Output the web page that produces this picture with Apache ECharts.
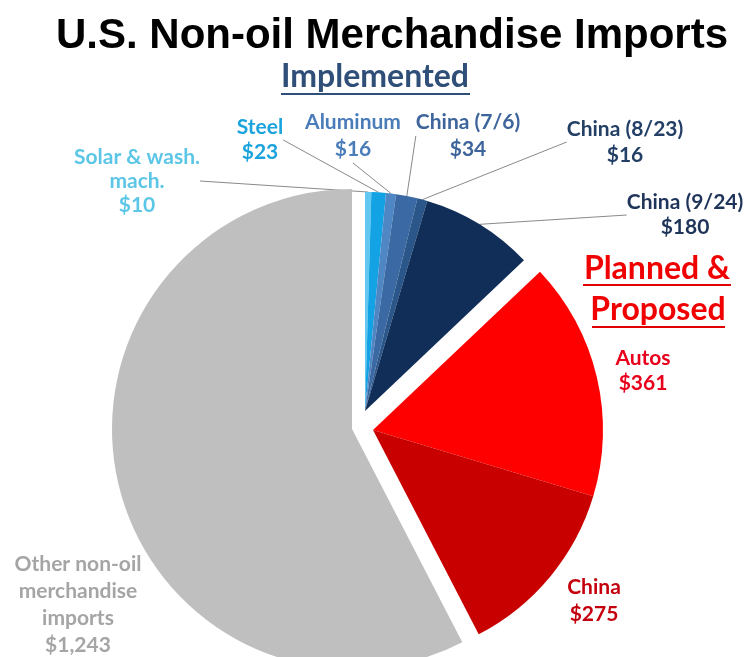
<!DOCTYPE html>
<html>
<head>
<meta charset="utf-8">
<title>U.S. Non-oil Merchandise Imports</title>
<script src="https://cdn.jsdelivr.net/npm/echarts@6/dist/echarts.min.js"></script>
<style>
  html, body { margin: 0; padding: 0; background: #ffffff; }
  #chart { width: 748px; height: 657px; }
</style>
</head>
<body>
<div id="chart"></div>
<script>
// Import categories (billions of dollars), clockwise from 12 o'clock
const categories = [
  'Solar & wash.\nmach.',
  'Steel',
  'Aluminum',
  'China (7/6)',
  'China (8/23)',
  'China (9/24)',
  'Autos',
  'China',
  'Other non-oil\nmerchandise\nimports'
];
const values = [10, 23, 16, 34, 16, 180, 361, 275, 1243];
// Which tariff group each category belongs to
const groups = [
  'implemented', 'implemented', 'implemented', 'implemented', 'implemented', 'implemented',
  'planned', 'planned',
  'other'
];

// ---- styling ----
const sliceColors = ['#62c8ef', '#13a3e4', '#4f86c4', '#3b69a3', '#2b5689', '#102e57', '#ff0000', '#c80000', '#bfbfbf'];
const labelColors = ['#5cc6e6', '#1aa3dc', '#4a7cba', '#3d659c', '#233f66', '#1f3459', '#e8001c', '#c4000f', '#a5a5a5'];
const labelSpots = [[137, 181], [260, 140], [353, 136], [468, 136], [625, 142], [685, 215], [643, 371], [594, 601], [78, 605]];
const labelLineHeights = [24, 25, 27, 27, 26, 25, 25, 27, 27];
const withLeader = [true, true, true, true, true, true, false, false, false];
const groupGeometry = {
  implemented: { center: [365, 411], radius: 219 },
  planned: { center: [373, 430], radius: 230 },
  other: { center: [352, 429], radius: 240 }
};
const LABEL_FONT = 'Lato, "Open Sans", sans-serif';

const fmtMoney = v => '$' + v.toLocaleString('en-US');

function buildSeries(groupName) {
  const geo = groupGeometry[groupName];
  return {
    type: 'pie',
    name: groupName,
    center: geo.center,
    radius: [0, geo.radius],
    startAngle: 90,
    clockwise: true,
    avoidLabelOverlap: false,
    silent: true,
    animation: false,
    label: {
      show: true,
      fontFamily: LABEL_FONT,
      fontWeight: 'bold',
      fontSize: 21,
      align: 'center',
      formatter: p => p.name + '\n' + fmtMoney(p.value)
    },
    labelLine: {
      show: true,
      length: 8,
      length2: 0,
      smooth: false,
      lineStyle: { color: '#8a8a8a', width: 1 }
    },
    labelLayout: params => {
      const spot = labelSpots[params.dataIndex];
      return { x: spot[0], y: spot[1], align: 'center', verticalAlign: 'middle' };
    },
    data: categories.map((name, i) => {
      const inGroup = groups[i] === groupName;
      return {
        name: name,
        value: values[i],
        itemStyle: { color: inGroup ? sliceColors[i] : 'rgba(0,0,0,0)' },
        label: inGroup
          ? { show: true, color: labelColors[i], lineHeight: labelLineHeights[i] }
          : { show: false },
        labelLine: { show: inGroup && withLeader[i] }
      };
    })
  };
}

const chart = echarts.init(document.getElementById('chart'), null, { renderer: 'canvas' });

chart.setOption({
  backgroundColor: '#ffffff',
  animation: false,
  title: {
    text: 'U.S. Non-oil Merchandise Imports',
    left: 387,
    top: 10,
    textAlign: 'center',
    textStyle: {
      fontFamily: '"Liberation Sans", Arial, sans-serif',
      fontWeight: 'bold',
      fontSize: 42,
      color: '#000000'
    }
  },
  graphic: [
    {
      type: 'text', x: 375, y: 77,
      style: {
        text: 'Implemented', fill: '#2f4e78',
        font: 'bold 32px ' + LABEL_FONT,
        textAlign: 'center', textVerticalAlign: 'middle'
      }
    },
    { type: 'line', shape: { x1: 281, y1: 94, x2: 470, y2: 94 }, style: { stroke: '#2f4e78', lineWidth: 2 } },
    {
      type: 'text', x: 657, y: 269,
      style: {
        text: 'Planned &', fill: '#f00000',
        font: 'bold 32px ' + LABEL_FONT,
        textAlign: 'center', textVerticalAlign: 'middle'
      }
    },
    { type: 'line', shape: { x1: 583, y1: 285, x2: 731, y2: 285 }, style: { stroke: '#e00000', lineWidth: 2 } },
    {
      type: 'text', x: 658, y: 310,
      style: {
        text: 'Proposed', fill: '#f00000',
        font: 'bold 32px ' + LABEL_FONT,
        textAlign: 'center', textVerticalAlign: 'middle'
      }
    },
    { type: 'line', shape: { x1: 592, y1: 327, x2: 725, y2: 327 }, style: { stroke: '#e00000', lineWidth: 2 } }
  ],
  series: ['other', 'implemented', 'planned'].map(buildSeries)
});
</script>
</body>
</html>
